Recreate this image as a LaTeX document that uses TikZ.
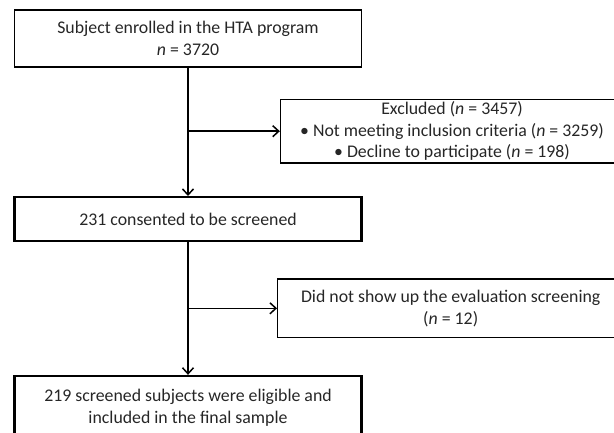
\documentclass[tikz,border=0pt]{standalone}
\usepackage{fontspec}
\setmainfont{Carlito}
\usetikzlibrary{positioning,calc,arrows.meta}

\begin{document}
\begin{tikzpicture}[x=1pt, y=-1pt,
    box/.style={draw, line width=1.3pt, align=center, inner sep=0pt, text=black!85,
      minimum width=347pt, font=\fontsize{17.8}{21.6}\selectfont},
    thickbox/.style={box, line width=2.3pt},
    flow/.style={line width=1.5pt, -{Straight Barb[length=6pt,width=11pt]}}]
				\useasboundingbox (0,0) rectangle (614,432);
				\node [box, minimum height=57pt] (enrolled) at (188,38.5) {Subject enrolled in the HTA program\\ \textit{n} = 3720};
				\node [box, minimum width=343pt, minimum height=63.7pt] (excluded) at (452,131.2) {Excluded (\textit{n} = 3457)\\ \textbullet{} Not meeting inclusion criteria (\textit{n} = 3259)\\ \textbullet{} Decline to participate (\textit{n} = 198)};
				\node [thickbox, minimum height=43.7pt] (consented) at (188,219) {231 consented to be screened};
				\node [box, minimum width=346pt, minimum height=58.7pt] (noshow) at (450.7,308.3) {Did not show up the evaluation screening\\ (\textit{n} = 12)};
				\node [thickbox, minimum height=63pt] (eligible) at (188,407.5) {219 screened subjects were eligible and\\ included in the final sample};
				\draw [flow] (enrolled.south) -- (consented.north);
				\draw [flow] (enrolled.south |- excluded.west) -- (excluded.west);
				\draw [flow] (consented.south) -- (eligible.north);
				\draw [flow] (consented.south |- noshow.west) -- (noshow.west);
			\end{tikzpicture}
\end{document}
